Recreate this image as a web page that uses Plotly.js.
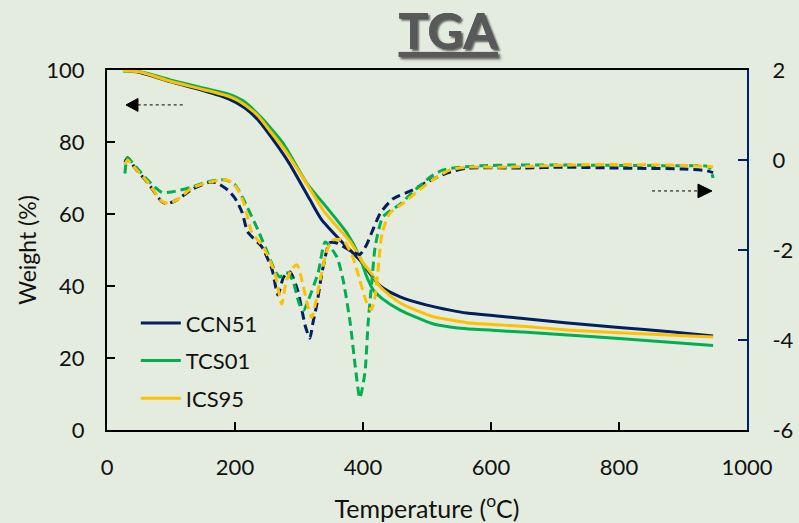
<!DOCTYPE html>
<html>
<head>
<meta charset="utf-8">
<script src="https://cdn.plot.ly/plotly-3.0.1.min.js"></script>
<style>html,body{margin:0;padding:0;background:#E4ECDF;}#chart{width:799px;height:523px;}</style>
</head>
<body>
<div id="chart"></div>
<script>
// ---- TGA weight curves (left axis, %) ----
const ccn51_T = [25,50,100,150,190,215,235,260,285,317,335,364,395,427,458,500,536,562,650,720,800,880,947];
const ccn51_W = [99.8,99.4,96.7,94.3,92,89.5,86.3,80.5,74,64,58.5,52.8,47.2,40,37,34.7,33.3,32.5,31,29.7,28.5,27.3,26.1];

const tcs01_T = [25,50,100,150,190,212,240,275,312,344,375,395,406,416,430,458,509,536,562,650,719,800,947];
const tcs01_W = [99.8,99.6,97.2,95,93.3,91.5,87,79.7,68.6,61.7,54.7,48,42.5,38.9,36.5,33.3,29.5,28.6,28.1,27.2,26.4,25.4,23.5];

const ics95_T = [25,50,100,150,190,210,235,255,278,310,340,380,400,415,427,458,509,536,562,650,719,800,947];
const ics95_W = [99.8,99.5,96.8,94.6,92.7,91,87.5,83,77.8,69,60.5,52.3,46.5,43,39.7,35.3,31.5,30.6,29.8,28.8,27.8,27,25.8];

// ---- DTG curves (right axis) ----
const ccn51_dT = [28,32,45,64,86,95,110,133,158,170,189,200,211,220,242,258,267,276,286,298,310,317,322,328,336,348,360,378,395,405,414,427,447,477,500,531,562,650,713,800,900,937,947];
const ccn51_D  = [-0.05,0.05,-0.2,-0.51,-0.93,-0.97,-0.88,-0.65,-0.5,-0.5,-0.67,-0.85,-1.16,-1.6,-1.93,-2.44,-3.0,-2.6,-2.49,-2.9,-3.7,-3.96,-3.6,-3.2,-2.5,-1.84,-1.85,-2.0,-2.1,-1.9,-1.6,-1.18,-0.86,-0.67,-0.49,-0.29,-0.18,-0.18,-0.16,-0.18,-0.2,-0.24,-0.28];

const tcs01_dT = [28,32,45,64,86,101,133,158,184,200,212,236,251,262,270,280,290,300,307,315,330,341,359,369,380,388,395,403,408,414,419,431,458,478,505,525,552,583,634,719,800,900,940,947];
const tcs01_D  = [-0.3,0.05,-0.15,-0.45,-0.72,-0.71,-0.6,-0.48,-0.44,-0.55,-0.84,-1.56,-2.07,-2.45,-2.6,-2.5,-2.67,-3.18,-3.35,-3.1,-2.5,-1.82,-2.15,-2.67,-3.62,-4.6,-5.29,-4.73,-3.62,-2.67,-1.93,-1.27,-0.98,-0.71,-0.38,-0.22,-0.16,-0.13,-0.11,-0.11,-0.12,-0.13,-0.15,-0.4];

const ics95_dT = [28,32,45,64,86,97,110,133,158,184,196,205,215,226,245,262,273,280,290,297,305,313,320,327,333,344,353,369,384,395,406,413,418,422,430,442,463,484,509,536,562,614,728,800,900,947];
const ics95_D  = [-0.1,0.0,-0.2,-0.5,-0.92,-0.96,-0.88,-0.62,-0.5,-0.44,-0.5,-0.67,-1.0,-1.6,-1.95,-2.5,-3.2,-2.7,-2.4,-2.33,-2.7,-3.2,-3.5,-3.1,-2.67,-2.0,-1.78,-1.78,-2.16,-2.67,-3.18,-3.33,-3.1,-2.67,-1.62,-1.18,-0.96,-0.71,-0.44,-0.22,-0.16,-0.16,-0.11,-0.1,-0.12,-0.15];

const names = ['CCN51','TCS01','ICS95'];
const colors = ['#002060','#00B050','#FFC000'];
const xTicks = [0,200,400,600,800,1000];
const y2Ticks = [-6,-4,-2,0,2];
const y2TickText = ['-6','-4','-2','0','2'];

const FONT = 'Lato, "Open Sans", sans-serif';
const dashPat = '9px,5px';

const tgaT = [ccn51_T, tcs01_T, ics95_T];
const tgaW = [ccn51_W, tcs01_W, ics95_W];
const dtgT = [ccn51_dT, tcs01_dT, ics95_dT];
const dtgD = [ccn51_D, tcs01_D, ics95_D];

const traces = [];
for (let i = 0; i < 3; i++) {
  traces.push({
    x: dtgT[i], y: dtgD[i], yaxis: 'y2', type: 'scatter', mode: 'lines',
    line: {color: colors[i], width: 3, dash: dashPat, shape: 'spline', smoothing: 0.6},
    showlegend: false, hoverinfo: 'skip'
  });
}
for (let i = 0; i < 3; i++) {
  traces.push({
    x: tgaT[i], y: tgaW[i], type: 'scatter', mode: 'lines', name: names[i],
    legendgroup: names[i],
    line: {color: colors[i], width: 3, shape: 'spline', smoothing: 0.6}
  });
}

const layout = {
  width: 799, height: 523,
  paper_bgcolor: '#E4ECDF', plot_bgcolor: '#E4ECDF',
  margin: {l: 107, r: 52, t: 70, b: 93},
  font: {family: FONT, size: 22, color: '#111'},
  title: {
    text: '<b><u>TGA</u></b>', x: 0.561, xanchor: 'center', xref: 'container',
    y: 0.94, yanchor: 'middle', yref: 'container',
    font: {family: FONT, size: 50, color: '#595959', shadow: '2px 2px 2px rgba(0,0,0,0.35)'}
  },
  xaxis: {
    range: [0, 1000], tickvals: xTicks, ticks: 'inside', ticklen: 8, tickwidth: 2, tickcolor: '#000',
    showline: true, linecolor: '#000', linewidth: 2, mirror: true, showgrid: false, zeroline: false,
    ticklabelstandoff: 17,
    title: {text: 'Temperature (<sup>o</sup>C)', standoff: 22, font: {size: 25}}
  },
  yaxis: {
    range: [0, 100], dtick: 20, ticks: 'inside', ticklen: 8, tickwidth: 2, tickcolor: '#000',
    showline: true, linecolor: '#000', linewidth: 2, showgrid: false, zeroline: false,
    ticklabelstandoff: 16,
    title: {text: 'Weight (%)', standoff: 3, font: {size: 23}}
  },
  yaxis2: {
    range: [-6, 2], tickvals: y2Ticks, ticktext: y2TickText, overlaying: 'y', side: 'right', ticks: 'inside', ticklen: 9, tickwidth: 2,
    tickcolor: '#002060', showline: true, linecolor: '#002060', linewidth: 2, showgrid: false, zeroline: false,
    ticklabelstandoff: 19
  },
  legend: {
    x: 0.045, y: 0.355, xanchor: 'left', yanchor: 'top', bgcolor: 'rgba(0,0,0,0)',
    font: {family: FONT, size: 22, color: '#111'}, tracegroupgap: 6, itemwidth: 40
  },
  shapes: [
    {type: 'line', xref: 'x', yref: 'y', x0: 48, x1: 122, y0: 90.3, y1: 90.3, line: {color: '#000', width: 1, dash: 'dot'}},
    {type: 'path', xref: 'x', yref: 'y', path: 'M 29.7 90.3 L 48.4 92.1 L 48.4 88.5 Z', fillcolor: '#000', line: {color: '#000', width: 1}},
    {type: 'line', xref: 'x', yref: 'y', x0: 851.6, x1: 924, y0: 66.4, y1: 66.4, line: {color: '#000', width: 1, dash: 'dot'}},
    {type: 'path', xref: 'x', yref: 'y', path: 'M 945.3 66.4 L 923.4 68.3 L 923.4 64.5 Z', fillcolor: '#000', line: {color: '#000', width: 1}}
  ]
};

Plotly.newPlot('chart', traces, layout, {displayModeBar: false, staticPlot: true});
</script>
</body>
</html>
